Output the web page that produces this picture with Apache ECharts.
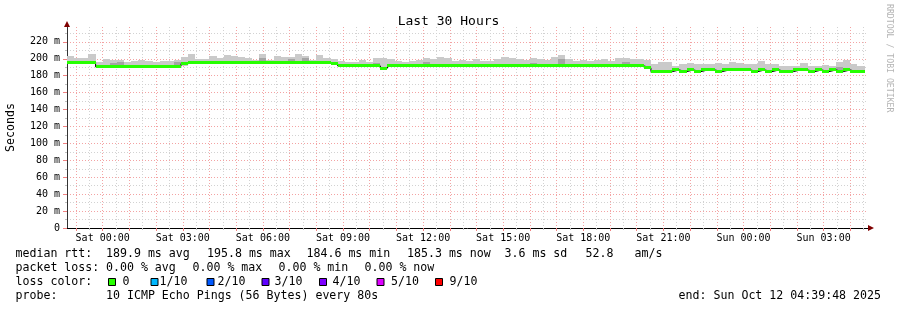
<!DOCTYPE html>
<html><head><meta charset="utf-8">
<script src="https://cdn.jsdelivr.net/npm/echarts@6/dist/echarts.min.js"></script>
<style>html,body{margin:0;padding:0;background:#fff}#c{width:897px;height:310px}</style>
</head><body><div id="c"></div><script>
// ---------- data ----------
const firstBinHour = -4/3;      // hours relative to Sat 00:00
const binHours = 4/15;          // 16 minute consolidation steps
const median = [
195.8,195.8,195.8,195.8,190.5,190.5,191.2,191.0,191.0,191.0,
191.0,191.0,191.0,191.0,191.0,191.0,194.3,195.6,195.6,195.6,
195.6,195.6,195.6,195.6,195.6,195.6,195.6,195.6,195.6,195.6,
195.6,195.6,195.6,195.6,195.6,195.6,195.6,194.3,191.6,191.6,
191.6,191.6,191.6,191.6,189.0,191.6,191.6,191.6,191.6,191.6,
191.6,191.6,191.6,191.6,191.6,191.6,191.6,191.6,191.6,191.6,
191.6,191.6,191.6,191.6,191.6,191.6,191.6,191.6,191.6,191.6,
191.6,191.6,191.6,191.6,191.6,191.6,191.6,191.6,191.6,191.6,
191.6,189.3,184.8,184.8,184.8,186.8,184.8,186.8,184.8,186.8,
186.8,184.8,186.8,186.8,186.8,186.8,184.8,186.8,184.8,186.8,
184.8,184.8,186.8,186.8,184.8,186.8,184.8,186.8,184.8,186.8,
184.8,185.3];
const smokeHi = [
202.8,201.3,200.5,206.0,196.5,200.0,199.0,199.0,196.5,198.0,
199.0,197.0,196.5,197.0,198.0,199.0,202.0,206.0,200.0,200.0,
203.6,200.5,204.8,202.9,202.1,200.9,198.9,206.0,198.9,202.9,
202.1,202.1,205.2,202.9,198.9,204.0,200.9,199.7,197.3,196.5,
195.7,198.1,196.5,200.4,200.4,199.3,197.3,196.5,197.3,198.5,
200.4,199.7,202.4,200.4,197.3,198.1,197.3,199.7,197.3,197.3,
199.3,202.4,200.4,199.3,198.1,200.4,199.3,198.1,202.4,204.4,
199.3,197.3,198.1,197.3,198.1,199.3,197.3,200.4,200.4,199.3,
199.3,198.1,194.0,196.0,196.0,192.0,194.0,195.2,194.0,193.4,
194.0,195.2,193.4,196.8,195.2,193.4,194.0,198.0,193.4,193.4,
192.0,191.6,192.0,194.8,192.0,192.0,192.8,192.0,196.8,198.8,
193.4,191.6];
const smokeLo = [
193.5,193.5,193.8,193.5,189.0,189.0,189.5,189.5,189.5,189.5,
189.5,189.5,189.5,189.5,189.5,189.5,192.0,193.5,193.8,193.5,
193.5,193.8,193.5,193.5,193.8,193.5,193.8,193.5,193.8,193.5,
193.5,193.8,193.5,193.5,193.8,193.5,193.8,192.5,190.0,190.0,
190.0,190.0,190.0,190.0,187.5,190.0,190.2,190.0,190.0,190.2,
190.0,190.0,190.2,190.0,190.0,190.0,190.2,190.0,190.0,190.0,
190.0,190.2,190.0,190.0,190.0,190.0,190.2,190.0,190.0,190.0,
190.0,190.0,190.2,190.0,190.0,190.0,190.0,190.2,190.0,190.0,
190.0,187.5,183.5,183.5,183.5,185.2,183.5,185.2,183.5,185.2,
185.2,183.5,185.2,185.2,185.2,185.2,183.5,185.2,183.5,185.2,
183.5,183.5,185.2,185.2,183.5,185.2,183.5,185.2,183.5,185.2,
183.5,183.8];
const smokeDark = [
195.8,197.0,197.0,198.0,190.5,190.5,195.0,196.5,191.0,191.0,
191.0,191.0,191.0,191.0,191.0,196.0,194.3,195.6,195.6,195.6,
195.6,195.6,195.6,195.6,195.6,195.6,195.6,201.0,195.6,195.6,
195.6,200.0,195.6,200.5,195.6,195.6,195.6,194.3,191.6,191.6,
191.6,191.6,191.6,194.5,189.0,191.6,191.6,191.6,191.6,191.6,
196.0,191.6,194.0,191.6,191.6,191.6,191.6,191.6,191.6,191.6,
191.6,191.6,194.0,191.6,191.6,195.0,191.6,191.6,191.6,200.0,
191.6,191.6,191.6,191.6,191.6,191.6,191.6,191.6,196.0,191.6,
191.6,189.3,184.8,184.8,184.8,186.8,184.8,189.5,184.8,186.8,
186.8,184.8,186.8,186.8,186.8,186.8,184.8,186.8,184.8,186.8,
184.8,184.8,186.8,189.5,184.8,186.8,184.8,186.8,190.5,186.8,
184.8,185.3];

const xLabelHours = [0,3,6,9,12,15,18,21,24,27];
const xTickLabels = ['Sat 00:00','Sat 03:00','Sat 06:00','Sat 09:00','Sat 12:00','Sat 15:00','Sat 18:00','Sat 21:00','Sun 00:00','Sun 03:00'];
const xMajorHours = [-1,0,1,2,3,4,5,6,7,8,9,10,11,12,13,14,15,16,17,18,19,20,21,22,23,24,25,26,27,28];
const xMinorHours = [-0.5,0.5,1.5,2.5,3.5,4.5,5.5,6.5,7.5,8.5,9.5,10.5,11.5,12.5,13.5,14.5,15.5,16.5,17.5,18.5,19.5,20.5,21.5,22.5,23.5,24.5,25.5,26.5,27.5,28.5];
const yTickValues = [0,20,40,60,80,100,120,140,160,180,200,220];
const yTickLabels = ['0','20 m','40 m','60 m','80 m','100 m','120 m','140 m','160 m','180 m','200 m','220 m'];
const yMinorValues = [10,30,50,70,90,110,130,150,170,190,210,230];

const lossColors = ['#26ff00','#00b8ff','#0059ff','#5e00ff','#7e00ff','#dd00ff','#ff0000'];
const lossLabels = ['0','1/10','2/10','3/10','4/10','5/10','9/10'];

// ---------- build ----------
const X_MIN = -1.33667, X_MAX = 28.66333, Y_MAX = 237.6;
const FONT = '"DejaVu Sans Mono", monospace';

const binData = median.map((m, i) => [
  firstBinHour + i * binHours, firstBinHour + (i + 1) * binHours,
  smokeLo[i], smokeDark[i], smokeHi[i], m]);
const stepData = median.map((m, i) => [firstBinHour + i * binHours, m]);
stepData.push([firstBinHour + median.length * binHours, median[median.length - 1]]);

const chart = echarts.init(document.getElementById('c'), null, {renderer: 'canvas'});

const legendRows = [
  {y: 254, items: [[15.5,'median rtt:'],[106,'189.9 ms avg'],[207,'195.8 ms max'],[306.5,'184.6 ms min'],[407,'185.3 ms now'],[504.5,'3.6 ms sd'],[585.5,'52.8'],[634.5,'am/s']]},
  {y: 268, items: [[15.5,'packet loss:'],[106,'0.00 % avg'],[192.5,'0.00 % max'],[278.5,'0.00 % min'],[364.5,'0.00 % now']]},
  {y: 282, items: [[15.5,'loss color:']]},
  {y: 296, items: [[15.5,'probe:'],[106,'10 ICMP Echo Pings (56 Bytes) every 80s']]}
];
const lossBoxX = [108, 150.5, 206.5, 261.5, 319, 376.5, 435];
const lossTextX = [122.5, 159.5, 217.5, 274.5, 332.5, 391, 449.5];

const graphics = [];
legendRows.forEach(r => r.items.forEach(([x, t]) => graphics.push({
  type: 'text', x: x, y: r.y,
  style: {text: t, fontFamily: FONT, fontSize: 11.6, fill: '#000', textVerticalAlign: 'middle', textAlign: 'left'}
})));
lossColors.forEach((c, i) => {
  graphics.push({type: 'rect', shape: {x: lossBoxX[i] + 0.5, y: 278.5, width: 7, height: 7},
    style: {fill: c, stroke: '#000', lineWidth: 1}});
  graphics.push({type: 'text', x: lossTextX[i], y: 282,
    style: {text: lossLabels[i], fontFamily: FONT, fontSize: 11.6, fill: '#000', textVerticalAlign: 'middle'}});
});
graphics.push({type: 'text', x: 881, y: 296,
  style: {text: 'end: Sun Oct 12 04:39:48 2025', fontFamily: FONT, fontSize: 11.6, fill: '#000', textAlign: 'right', textVerticalAlign: 'middle'}});
graphics.push({type: 'text', x: 889, y: 4, rotation: -Math.PI / 2,
  style: {text: 'RRDTOOL / TOBI OETIKER', fontFamily: FONT, fontSize: 8.2, fill: '#b4b4b4', textAlign: 'left', textVerticalAlign: 'middle'}});

const redGrid = {color: '#f3a3a3', type: [1, 2], width: 1};
const greyGrid = {color: '#d2d2d2', type: [1, 2], width: 1};

const option = {
  animation: false,
  backgroundColor: '#ffffff',
  title: {text: 'Last 30 Hours', left: 'center', top: 10,
    textStyle: {fontFamily: FONT, fontSize: 13, fontWeight: 'normal', color: '#000'}},
  grid: {left: 67, right: 29, top: 27, bottom: 82, containLabel: false, outerBoundsMode: 'none'},
  xAxis: [
    {type: 'value', min: X_MIN, max: X_MAX, position: 'bottom',
     axisLine: {show: true, onZero: false, lineStyle: {color: '#000', width: 1}},
     axisTick: {show: true, customValues: xMajorHours, length: 3, lineStyle: {color: '#f08080'}},
     axisLabel: {customValues: xLabelHours, formatter: v => xTickLabels[xLabelHours.indexOf(v)],
       fontFamily: FONT, fontSize: 10, color: '#000', margin: 5},
     splitLine: {show: true, lineStyle: redGrid}},
    {type: 'value', min: X_MIN, max: X_MAX, position: 'bottom',
     axisLine: {show: true, onZero: false, symbol: ['none', 'triangle'], symbolSize: [6, 6], symbolOffset: [0, 3],
       lineStyle: {color: '#7f0000', width: 0}},
     axisTick: {show: true, customValues: xMinorHours, length: 2, lineStyle: {color: '#c0c0c0'}},
     axisLabel: {show: false},
     splitLine: {show: true, lineStyle: greyGrid}}
  ],
  yAxis: [
    {type: 'value', min: 0, max: Y_MAX, position: 'left',
     axisLine: {show: true, onZero: false, lineStyle: {color: '#333', width: 1}},
     axisTick: {show: true, customValues: yTickValues, length: 4, lineStyle: {color: '#f08080'}},
     axisLabel: {customValues: yTickValues, formatter: v => yTickLabels[yTickValues.indexOf(v)],
       fontFamily: FONT, fontSize: 10, color: '#000', margin: 7},
     splitLine: {show: true, lineStyle: redGrid},
     name: 'Seconds', nameLocation: 'middle', nameGap: 50, nameRotate: 90,
     nameTextStyle: {fontFamily: FONT, fontSize: 11.6, color: '#000'}},
    {type: 'value', min: 0, max: Y_MAX, position: 'left',
     axisLine: {show: true, onZero: false, symbol: ['none', 'triangle'], symbolSize: [6, 6], symbolOffset: [0, 3],
       lineStyle: {color: '#7f0000', width: 0}},
     axisTick: {show: true, customValues: yMinorValues, length: 2, lineStyle: {color: '#c0c0c0'}},
     axisLabel: {show: false},
     splitLine: {show: true, lineStyle: greyGrid}}
  ],
  series: [
    {type: 'custom', name: 'smoke', xAxisIndex: 0, yAxisIndex: 0, data: binData, z: 2,
     renderItem: (params, api) => {
       const a = api.coord([api.value(0), api.value(2)]);
       const b = api.coord([api.value(1), api.value(4)]);
       const d = api.coord([api.value(1), api.value(3)]);
       const m = api.coord([api.value(1), api.value(5)]);
       const x0 = Math.round(a[0]), x1 = Math.round(b[0]);
       const yLo = Math.round(a[1]), yHi = Math.round(b[1]), yDk = Math.round(d[1]), yM = Math.round(m[1]);
       const ch = [{type: 'rect', shape: {x: x0, y: yHi, width: x1 - x0, height: Math.max(0, yLo - yHi)}, style: {fill: '#cacaca'}}];
       if (yM - yDk > 0) ch.push({type: 'rect', shape: {x: x0, y: yDk, width: x1 - x0, height: yM - yDk}, style: {fill: '#a4a4a4'}});
       return {type: 'group', children: ch};
     }},
    {type: 'line', name: 'median-edge', xAxisIndex: 0, yAxisIndex: 0, data: stepData, step: 'end',
     showSymbol: false, symbol: 'none', z: 3, lineStyle: {color: '#000', width: 1}},
    {type: 'custom', name: 'median', xAxisIndex: 0, yAxisIndex: 0, data: binData, z: 4,
     renderItem: (params, api) => {
       const a = api.coord([api.value(0), api.value(5)]);
       const b = api.coord([api.value(1), api.value(5)]);
       const x0 = Math.round(a[0]), x1 = Math.round(b[0]);
       const yT = Math.round(a[1] - 1.5);
       return {type: 'rect', shape: {x: x0, y: yT, width: x1 - x0, height: 3}, style: {fill: lossColors[0]}};
     }}
  ],
  graphic: graphics
};
chart.setOption(option);
</script></body></html>
